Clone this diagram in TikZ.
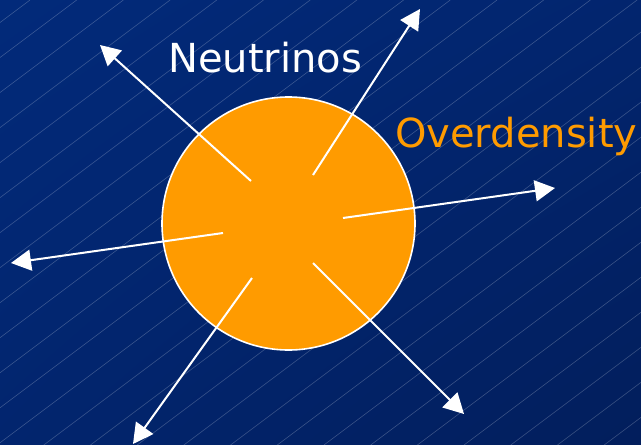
\documentclass[tikz,border=0pt]{standalone}
\usepackage{fontspec}
\setmainfont{DejaVu Sans}
\usetikzlibrary{arrows.meta,shadings}
\definecolor{bgA}{RGB}{2,42,122}
\definecolor{bgB}{RGB}{2,37,110}
\definecolor{bgC}{RGB}{2,30,92}
\definecolor{odorange}{RGB}{255,155,0}
\tikzset{
  arr/.style={white, line width=2pt, -{Triangle[length=20pt,width=21pt]}},
  hatch/.style={white, opacity=0.22, line width=0.6pt},
  lbl/.style={anchor=base west, inner sep=0pt, font=\fontsize{40}{40}\selectfont},
}
\begin{document}
\begin{tikzpicture}[x=1pt,y=-1pt]
\useasboundingbox (0,0) rectangle (641,445);
\shade[upper left=bgA, upper right=bgB, lower left=bgB, lower right=bgC] (0,0) rectangle (641,445);
\begin{scope}
\clip (0,0) rectangle (641,445);
\foreach \k in {-11,...,17} {
  \pgfmathsetmacro{\c}{497+46.7*\k}
  \draw[hatch] (\c,0) -- ({\c-593.33},445);
}
\end{scope}
\node[circle, draw=white, line width=1.6pt, fill=odorange, minimum size=253pt, inner sep=0pt] (od) at (288.5,223.5) {};
\coordinate (s1) at (251,181); \coordinate (t1) at (100,45);
\coordinate (s2) at (313,175); \coordinate (t2) at (420,9);
\coordinate (s3) at (343,218); \coordinate (t3) at (555,188);
\coordinate (s4) at (223,233); \coordinate (t4) at (11,263);
\coordinate (s5) at (252,278); \coordinate (t5) at (133,444);
\coordinate (s6) at (313,263); \coordinate (t6) at (464,414);
\draw[arr] (s1) -- (t1);
\draw[arr] (s2) -- (t2);
\draw[arr] (s3) -- (t3);
\draw[arr] (s4) -- (t4);
\draw[arr] (s5) -- (t5);
\draw[arr] (s6) -- (t6);
\node[lbl, text=white] (neu) at (168,72) {Neutrinos};
\node[lbl, text=odorange] (ovd) at (395,147) {Overdensity};
\end{tikzpicture}
\end{document}
